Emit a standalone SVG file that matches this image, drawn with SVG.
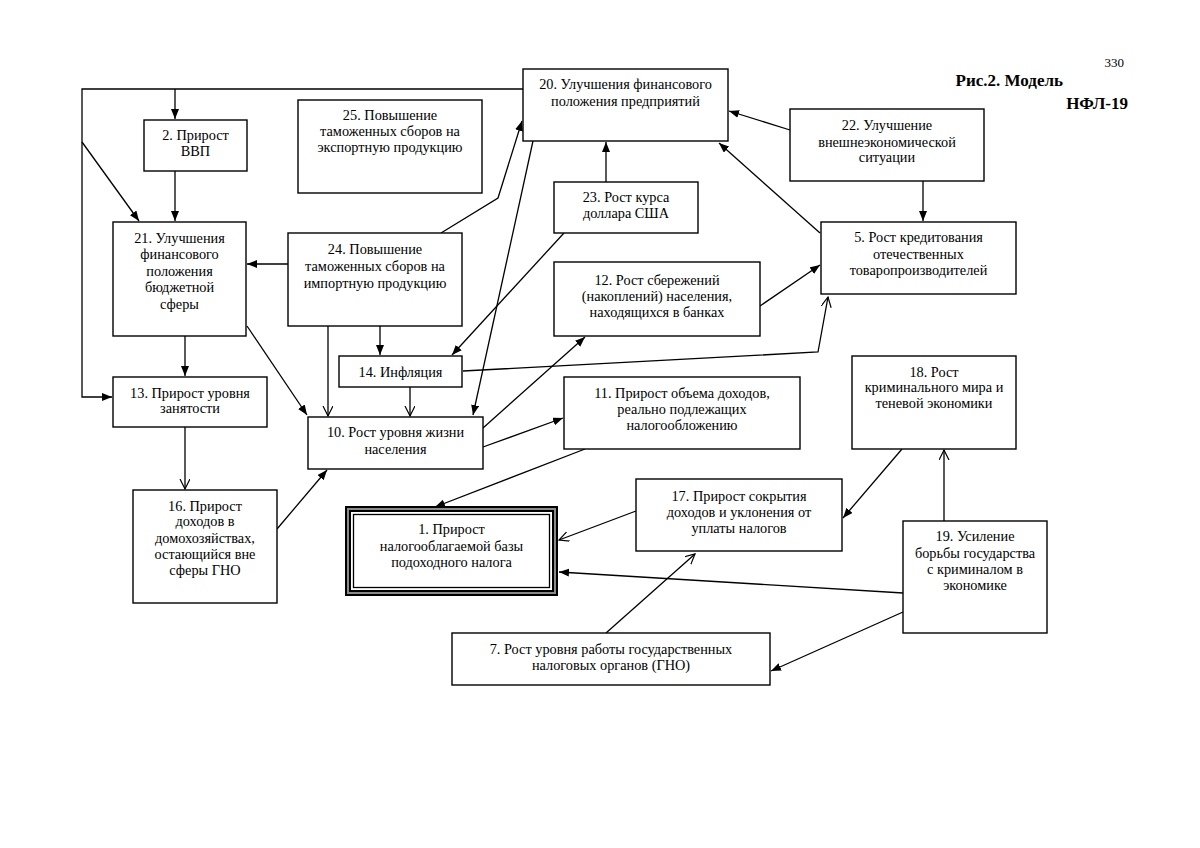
<svg xmlns="http://www.w3.org/2000/svg" width="1200" height="848" viewBox="0 0 1200 848">
<defs>
<marker id="af" markerUnits="userSpaceOnUse" markerWidth="11" markerHeight="9" refX="10" refY="4" orient="auto"><path d="M0,0 L10,4 L0,8 z" fill="#000"/></marker>
<marker id="ao" markerUnits="userSpaceOnUse" markerWidth="12" markerHeight="12" refX="10" refY="5" orient="auto"><path d="M0,0 L10,5 L0,10" fill="none" stroke="#000" stroke-width="1.2"/></marker>
<style>
.b{fill:#fff;stroke:#000;stroke-width:1.4}
text{font-family:"Liberation Serif","Times New Roman",serif;font-size:14.3px;fill:#000;text-anchor:middle}
.c path,.c line,.c polyline{fill:none;stroke:#000;stroke-width:1.3}
.f{marker-end:url(#af)}
.o{marker-end:url(#ao)}
.t{font-weight:bold;font-size:17px;text-anchor:end}
</style>
</defs>
<rect width="1200" height="848" fill="#fff"/>
<text x="1124" y="67" style="text-anchor:end;font-size:13px">330</text>
<text class="t" x="1063" y="86">Рис.2. Модель</text>
<text class="t" x="1128" y="109">НФЛ-19</text>

<g class="c" id="connectors">
<path class="f" d="M523,89 H82 V397 H112"/>
<path class="f" d="M175,89 V119"/>
<path class="f" d="M82,142 L139,221"/>
<path class="f" d="M175,171 V221"/>
<path class="f" d="M288,264 H247"/>
<path class="f" d="M185,336 V376"/>
<path class="f" d="M247,326 L307,415"/>
<path class="o" d="M328,326 V416"/>
<path class="f" d="M380,326 V355"/>
<path class="o" d="M410,387 V416"/>
<path class="o" d="M185,427 V489"/>
<path class="f" d="M277,529 L327,470"/>
<path class="f" d="M441,233 L498,198 L522,121"/>
<path class="f" d="M533,141 L473,415"/>
<path class="f" d="M564,233 L452,355"/>
<path class="f" d="M606,182 V142"/>
<path class="f" d="M790,130 L729,111"/>
<path class="f" d="M820,233 L719,143"/>
<path class="f" d="M923,181 V221"/>
<path class="f" d="M760,306 L820,265"/>
<path class="o" d="M463,371 L818,352 L828,297"/>
<path class="f" d="M483,428 L585,337"/>
<path class="f" d="M483,447 L563,418"/>
<path class="f" d="M585,449 L435,507"/>
<path class="o" d="M636,511 L559,540"/>
<path class="o" d="M606,633 L695,554"/>
<path class="f" d="M903,593 L559,572"/>
<path class="f" d="M903,612 L771,671"/>
<path class="o" d="M944,521 V450"/>
<path class="f" d="M902,449 L843,518"/>
</g>

<g id="n20"><rect class="b" x="523" y="69" width="205" height="72"/><text x="625.5" y="89">20. Улучшения финансового</text><text x="625.5" y="106">положения предприятий</text></g>
<g id="n2"><rect class="b" x="144" y="120" width="103" height="51"/><text x="195.5" y="140">2. Прирост</text><text x="195.5" y="156">ВВП</text></g>
<g id="n25"><rect class="b" x="298" y="100" width="184" height="93"/><text x="390" y="120">25. Повышение</text><text x="390" y="136">таможенных сборов на</text><text x="390" y="152">экспортную продукцию</text></g>
<g id="n21"><rect class="b" x="113" y="222" width="133" height="114"/><text x="179.5" y="243">21. Улучшения</text><text x="179.5" y="259">финансового</text><text x="179.5" y="276">положения</text><text x="179.5" y="292">бюджетной</text><text x="179.5" y="309">сферы</text></g>
<g id="n24"><rect class="b" x="288" y="233" width="174" height="93"/><text x="375" y="254">24. Повышение</text><text x="375" y="271">таможенных сборов на</text><text x="375" y="288">импортную продукцию</text></g>
<g id="n23"><rect class="b" x="554" y="182" width="144" height="51"/><text x="626" y="202">23. Рост курса</text><text x="626" y="218">доллара США</text></g>
<g id="n22"><rect class="b" x="790" y="109" width="194" height="72"/><text x="887" y="130">22. Улучшение</text><text x="887" y="147">внешнеэкономической</text><text x="887" y="162">ситуации</text></g>
<g id="n5"><rect class="b" x="821" y="222" width="195" height="72"/><text x="918.5" y="242">5. Рост кредитования</text><text x="918.5" y="259">отечественных</text><text x="918.5" y="275">товаропроизводителей</text></g>
<g id="n12"><rect class="b" x="554" y="262" width="206" height="74"/><text x="657" y="285">12. Рост сбережений</text><text x="657" y="301">(накоплений) населения,</text><text x="657" y="317">находящихся в банках</text></g>
<g id="n14"><rect class="b" x="339" y="356" width="123" height="31"/><text x="400.5" y="377">14. Инфляция</text></g>
<g id="n13"><rect class="b" x="113" y="377" width="154" height="50"/><text x="190" y="398">13. Прирост уровня</text><text x="190" y="413">занятости</text></g>
<g id="n10"><rect class="b" x="308" y="417" width="175" height="52"/><text x="395.5" y="437">10. Рост уровня жизни</text><text x="395.5" y="454">населения</text></g>
<g id="n11"><rect class="b" x="564" y="377" width="236" height="72"/><text x="682" y="398">11. Прирост объема доходов,</text><text x="682" y="414">реально подлежащих</text><text x="682" y="430">налогообложению</text></g>
<g id="n18"><rect class="b" x="852" y="356" width="164" height="93"/><text x="934" y="377">18. Рост</text><text x="934" y="392">криминального мира и</text><text x="934" y="408">теневой экономики</text></g>
<g id="n16"><rect class="b" x="133" y="490" width="144" height="113"/><text x="205" y="511">16. Прирост</text><text x="205" y="526">доходов в</text><text x="205" y="543">домохозяйствах,</text><text x="205" y="559">остающийся вне</text><text x="205" y="575">сферы ГНО</text></g>
<g id="n1">
<rect x="346" y="507" width="211" height="88" fill="#fff" stroke="#000" stroke-width="2"/>
<rect x="348" y="509" width="207" height="84" fill="none" stroke="#8a8a8a" stroke-width="2"/>
<rect x="350" y="511" width="203" height="80" fill="none" stroke="#000" stroke-width="2"/>
<rect x="353.5" y="514.5" width="196" height="73" fill="none" stroke="#000" stroke-width="1.3"/>
<text x="451.5" y="534">1. Прирост</text><text x="451.5" y="551">налогооблагаемой базы</text><text x="451.5" y="567">подоходного налога</text></g>
<g id="n17"><rect class="b" x="636" y="479" width="206" height="72"/><text x="739" y="501">17. Прирост сокрытия</text><text x="739" y="517">доходов и уклонения от</text><text x="739" y="533">уплаты налогов</text></g>
<g id="n19"><rect class="b" x="903" y="521" width="144" height="112"/><text x="975" y="541">19. Усиление</text><text x="975" y="558">борьбы государства</text><text x="975" y="574">с криминалом в</text><text x="975" y="590">экономике</text></g>
<g id="n7"><rect class="b" x="452" y="633" width="318" height="52"/><text x="611" y="654">7. Рост уровня работы государственных</text><text x="611" y="670">налоговых органов (ГНО)</text></g>
</svg>
